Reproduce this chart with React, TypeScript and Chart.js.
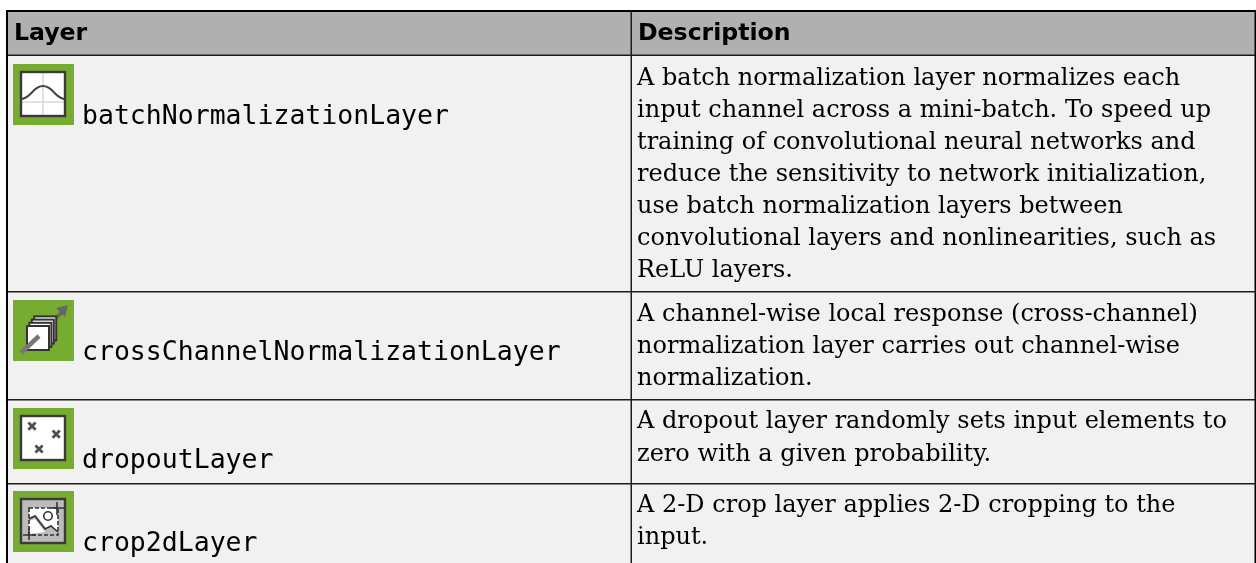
import React, { useEffect, useRef } from "react";
import { Chart, registerables } from "chart.js";

Chart.register(...registerables);

const headers = ["Layer", "Description"];
const layerNames = [
  "batchNormalizationLayer",
  "crossChannelNormalizationLayer",
  "dropoutLayer",
  "crop2dLayer",
];
const batchLines = [
  "A batch normalization layer normalizes each",
  "input channel across a mini-batch. To speed up",
  "training of convolutional neural networks and",
  "reduce the sensitivity to network initialization,",
  "use batch normalization layers between",
  "convolutional layers and nonlinearities, such as",
  "ReLU layers.",
];
const crossLines = [
  "A channel-wise local response (cross-channel)",
  "normalization layer carries out channel-wise",
  "normalization.",
];
const dropoutLines = [
  "A dropout layer randomly sets input elements to",
  "zero with a given probability.",
];
const cropLines = ["A 2-D crop layer applies 2-D cropping to the", "input."];
const descriptions = [batchLines, crossLines, dropoutLines, cropLines];

// layout, in scale units (one unit is one page pixel)
const W = 1256;
const H = 563;
const rowTops = [56, 292, 400, 484];
const iconTops = [64, 300, 408, 491];
const descBaselines = [84.5, 320.7, 428.4, 511.7];
const LINE = 32.1;
const DIV_X = 631;

type Ctx = CanvasRenderingContext2D;
type Box = { x0: number; y0: number; s: number };

function box(c: Ctx, X: (v: number) => number, Y: (v: number) => number, x: number, y: number): Box {
  const m = 8;
  const s = 44;
  c.fillStyle = "#ffffff";
  c.fillRect(X(x + m), Y(y + m), s, s);
  return { x0: X(x + m), y0: Y(y + m), s };
}

function frame(c: Ctx, b: Box) {
  c.strokeStyle = "#3a3a3a";
  c.lineWidth = 2.4;
  c.strokeRect(b.x0, b.y0, b.s, b.s);
}

function iconCurve(c: Ctx, b: Box) {
  c.strokeStyle = "#d8d8d8";
  c.lineWidth = 1.5;
  c.beginPath();
  c.moveTo(b.x0 + b.s * 0.5, b.y0);
  c.lineTo(b.x0 + b.s * 0.5, b.y0 + b.s);
  c.moveTo(b.x0, b.y0 + b.s * 0.68);
  c.lineTo(b.x0 + b.s, b.y0 + b.s * 0.68);
  c.stroke();
  c.strokeStyle = "#444444";
  c.lineWidth = 2;
  c.beginPath();
  c.moveTo(b.x0, b.y0 + b.s * 0.62);
  c.bezierCurveTo(b.x0 + b.s * 0.25, b.y0 + b.s * 0.58, b.x0 + b.s * 0.27, b.y0 + b.s * 0.32, b.x0 + b.s * 0.5, b.y0 + b.s * 0.32);
  c.bezierCurveTo(b.x0 + b.s * 0.73, b.y0 + b.s * 0.32, b.x0 + b.s * 0.75, b.y0 + b.s * 0.58, b.x0 + b.s, b.y0 + b.s * 0.62);
  c.stroke();
}

function iconCross(c: Ctx, px: number, py: number) {
  c.strokeStyle = "#666666";
  c.lineWidth = 3.5;
  c.beginPath();
  c.moveTo(px + 41, py + 20);
  c.lineTo(px + 50, py + 11);
  c.stroke();
  c.fillStyle = "#666666";
  c.beginPath();
  c.moveTo(px + 55, py + 5);
  c.lineTo(px + 43, py + 8);
  c.lineTo(px + 52, py + 17);
  c.closePath();
  c.fill();
  c.lineWidth = 2;
  c.strokeStyle = "#333333";
  for (const d of [3, 2, 1, 0]) {
    c.fillStyle = "#ffffff";
    c.fillRect(px + 14 + d * 2.4, py + 26 - d * 3.2, 22, 24);
    c.strokeRect(px + 14 + d * 2.4, py + 26 - d * 3.2, 22, 24);
  }
  c.strokeStyle = "#777777";
  c.lineWidth = 4.5;
  c.beginPath();
  c.moveTo(px + 8, py + 53);
  c.lineTo(px + 26, py + 36);
  c.stroke();
}

function iconDrop(c: Ctx, b: Box) {
  c.strokeStyle = "#505050";
  c.lineWidth = 2.8;
  for (const [u, v] of [[0.25, 0.23], [0.8, 0.41], [0.41, 0.75]]) {
    const cx = b.x0 + b.s * u;
    const cy = b.y0 + b.s * v;
    c.beginPath();
    c.moveTo(cx - 3.6, cy - 3.6);
    c.lineTo(cx + 3.6, cy + 3.6);
    c.moveTo(cx + 3.6, cy - 3.6);
    c.lineTo(cx - 3.6, cy + 3.6);
    c.stroke();
  }
}

function iconCrop(c: Ctx, b: Box) {
  const { x0, y0, s } = b;
  c.fillStyle = "#bcbcbc";
  c.fillRect(x0, y0, s, s);
  c.fillStyle = "#ffffff";
  c.beginPath();
  c.moveTo(x0 + 8, y0 + 18);
  c.lineTo(x0 + 8, y0 + 9);
  c.lineTo(x0 + 37, y0 + 9);
  c.lineTo(x0 + 37, y0 + 32);
  c.lineTo(x0 + 30, y0 + 27);
  c.lineTo(x0 + 25, y0 + 29);
  c.lineTo(x0 + 15, y0 + 16);
  c.closePath();
  c.fill();
  c.beginPath();
  c.moveTo(x0 + 8, y0 + 22);
  c.lineTo(x0 + 14, y0 + 20);
  c.lineTo(x0 + 24, y0 + 33);
  c.lineTo(x0 + 8, y0 + 35);
  c.closePath();
  c.fill();
  c.strokeStyle = "#333333";
  c.lineWidth = 1.6;
  c.setLineDash([4, 2]);
  c.strokeRect(x0 + 8, y0 + 9, 29, 27);
  c.setLineDash([]);
  c.beginPath();
  c.moveTo(x0 + 8, y0 + 20);
  c.lineTo(x0 + 14, y0 + 17);
  c.lineTo(x0 + 24, y0 + 30);
  c.lineTo(x0 + 30, y0 + 27);
  c.lineTo(x0 + 37, y0 + 33);
  c.moveTo(x0 + 36, y0 + 3);
  c.lineTo(x0 + 36, y0 + 16);
  c.moveTo(x0 + 29, y0 + 9);
  c.lineTo(x0 + 43, y0 + 9);
  c.moveTo(x0 + 8, y0 + 29);
  c.lineTo(x0 + 8, y0 + 41);
  c.moveTo(x0 + 2, y0 + 36);
  c.lineTo(x0 + 15, y0 + 36);
  c.stroke();
  c.beginPath();
  c.arc(x0 + 27, y0 + 17, 4.2, 0, Math.PI * 2);
  c.stroke();
}

const tablePlugin = {
  id: "tableCells",
  beforeDatasetsDraw(chart: any) {
    const c: Ctx = chart.ctx;
    const X = (v: number) => chart.scales.x.getPixelForValue(v);
    const Y = (v: number) => chart.scales.y.getPixelForValue(v);
    c.save();
    c.fillStyle = "#b0b0b0";
    c.fillRect(X(7), Y(11), X(W) - X(7), Y(55) - Y(11));
    c.fillStyle = "#f1f1f1";
    c.fillRect(X(7), Y(55), X(W) - X(7), Y(H) - Y(55));
    c.fillStyle = "#1c1c1c";
    c.fillRect(X(7), Y(54.5), X(W) - X(7), 1.5);
    for (const t of rowTops.slice(1)) c.fillRect(X(7), Y(t - 1), X(W) - X(7), 1.5);
    c.fillRect(X(DIV_X - 0.5), Y(11), 1.5, Y(H) - Y(11));
    c.fillStyle = "#000000";
    c.fillRect(X(6), Y(10), X(W) - X(6), 2);
    c.fillRect(X(6), Y(10), 2, Y(H) - Y(10));
    c.fillRect(X(1254.5), Y(10), 1.5, Y(H) - Y(10));
    c.textBaseline = "alphabetic";
    c.textAlign = "left";
    c.fillStyle = "#000000";
    c.font = "bold 23.6px 'DejaVu Sans'";
    c.fillText(headers[0], X(14), Y(40));
    c.fillText(headers[1], X(638), Y(40));
    layerNames.forEach((name, i) => {
      const top = iconTops[i];
      c.fillStyle = "#76ac2f";
      c.fillRect(X(13), Y(top), 61, 61);
      c.save();
      (c as any).filter = "blur(0.4px)";
      if (i === 1) {
        iconCross(c, X(13), Y(top));
      } else {
        const b = box(c, X, Y, 13, top);
        if (i === 0) iconCurve(c, b);
        if (i === 2) iconDrop(c, b);
        if (i === 3) iconCrop(c, b);
        frame(c, b);
      }
      c.restore();
      c.fillStyle = "#000000";
      c.font = "26.5px 'DejaVu Sans Mono'";
      c.fillText(name, X(82), Y(top + 60));
      c.font = "24px 'DejaVu Serif'";
      descriptions[i].forEach((line, k) => {
        c.fillText(line, X(637), Y(descBaselines[i] + k * LINE));
      });
    });
    c.restore();
  },
};

export default function App() {
  const ref = useRef<HTMLCanvasElement>(null);
  useEffect(() => {
    const chart = new Chart(ref.current!, {
      type: "scatter",
      data: { datasets: [{ data: [], pointRadius: 0 }] },
      options: {
        animation: false,
        responsive: false,
        layout: { padding: 0 },
        plugins: { legend: { display: false }, tooltip: { enabled: false } },
        scales: {
          x: { type: "linear", min: 0, max: W, display: false },
          y: { type: "linear", min: 0, max: H, reverse: true, display: false },
        },
      },
      plugins: [tablePlugin],
    });
    return () => chart.destroy();
  }, []);
  return (
    <canvas
      ref={ref}
      width={W}
      height={H}
      style={{ position: "absolute", left: 0, top: 0, width: W, height: H, display: "block" }}
    />
  );
}
